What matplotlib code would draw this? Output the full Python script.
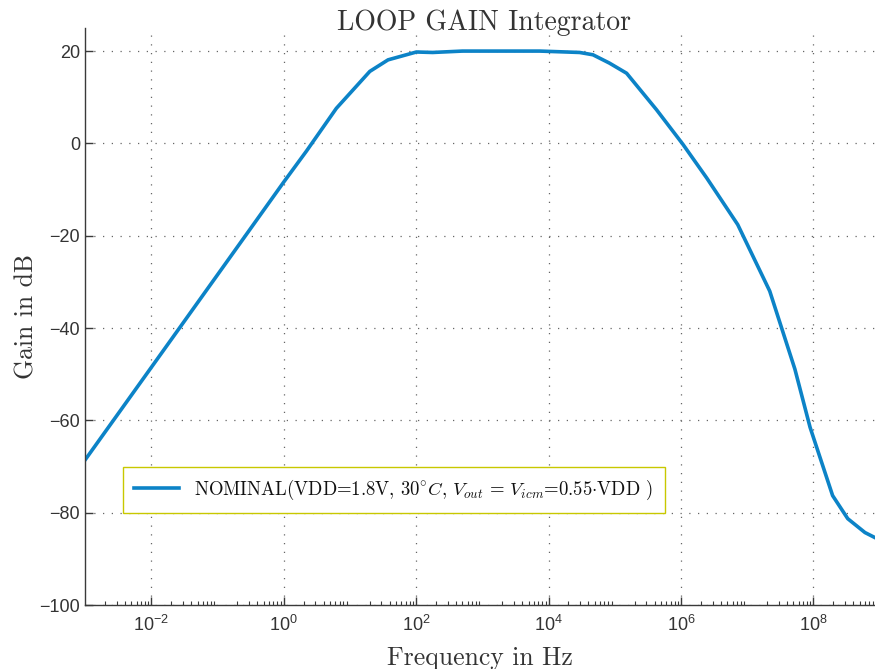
import matplotlib
matplotlib.use("Agg")
import matplotlib.pyplot as plt
from matplotlib.font_manager import FontProperties
from matplotlib.ticker import LogLocator, NullFormatter

# ---- data ----
freq_hz = [1.0e-3, 2.7e-2, 0.274, 1.0, 2.2, 6.25, 20.0, 37.7, 101.0, 178.0,
           500.0, 7.4e3, 2.95e4, 4.68e4, 8.3e4, 1.51e5, 4.27e5, 1.07e6,
           2.45e6, 7.2e6, 2.19e7, 5.25e7, 8.9e7, 1.95e8, 3.3e8, 6.0e8, 8.5e8]
gain_db = [-68.6, -39.9, -19.7, -8.4, -1.7, 7.6, 15.6, 18.1, 19.8, 19.7,
           20.0, 20.0, 19.7, 19.2, 17.4, 15.2, 7.3, -0.2,
           -7.5, -17.6, -32.0, -48.9, -61.5, -76.3, -81.3, -84.3, -85.4]
series_label = (r"NOMINAL(VDD=1.8V, 30$^{\circ}C$, $V_{out}\,=\,V_{icm}$"
                r"=0.55$\cdot$VDD )")
title_text = "LOOP GAIN Integrator"
xlabel_text = "Frequency in Hz"
ylabel_text = "Gain in dB"
yticks = [-100, -80, -60, -40, -20, 0, 20]
xticks = [1e-2, 1e0, 1e2, 1e4, 1e6, 1e8]

plt.rcParams['font.family'] = ['Liberation Sans', 'DejaVu Sans']
plt.rcParams['axes.unicode_minus'] = True

fig = plt.figure(figsize=(8.75, 6.69), dpi=100)
W, H = 875, 669
ax = fig.add_axes([85 / W, (H - 605) / H, (875 - 85) / W, (605 - 28) / H])

line_color = '#0c83c7'
ax.plot(freq_hz, gain_db, color=line_color, lw=2.6, label=series_label,
        solid_joinstyle='round')

ax.set_xscale('log')
ax.set_xlim(1e-3, 10 ** 8.93)
ax.set_ylim(-100, 25)
ax.set_xticks(xticks)
ax.set_yticks(yticks)
ax.xaxis.set_minor_locator(LogLocator(base=10, subs=range(2, 10), numticks=30))
ax.xaxis.set_minor_formatter(NullFormatter())

for s in ['top', 'right']:
    ax.spines[s].set_visible(False)
for s in ['left', 'bottom']:
    ax.spines[s].set_color('#3a3a3a')
    ax.spines[s].set_linewidth(1.0)

ax.tick_params(axis='both', which='major', direction='in', length=6,
               width=1.0, color='#3a3a3a', labelsize=13, labelcolor='#333333')
ax.tick_params(axis='x', which='major', pad=7)
ax.tick_params(axis='x', which='minor', direction='in', length=3,
               width=0.8, color='#3a3a3a')

ax.grid(True, which='major', linestyle=(0, (1, 6)), linewidth=0.9,
        color='#666666')
ax.set_axisbelow(True)

cm_title = FontProperties(family='cmr10', size=20, math_fontfamily='cm')
cm_label = FontProperties(family='cmr10', size=18.5, math_fontfamily='cm')
cm_leg = FontProperties(family='cmr10', size=13.5, math_fontfamily='cm')

ax.text(0.505, 1 - 2.5 / 577, title_text, transform=ax.transAxes,
        ha='center', va='baseline', fontproperties=cm_title, color='#333333')
ax.set_xlabel(xlabel_text, fontproperties=cm_label, color='#333333',
              labelpad=8)
ax.set_ylabel(ylabel_text, fontproperties=cm_label, color='#333333',
              labelpad=1)

leg = ax.legend(loc='lower left', bbox_to_anchor=(0.048, 0.159),
                borderaxespad=0, prop=cm_leg, frameon=True, fancybox=False,
                handlelength=2.4, handletextpad=0.8, borderpad=0.6,
                framealpha=1)
leg.get_frame().set_edgecolor('#c8c800')
leg.get_frame().set_linewidth(1.0)
for t in leg.get_texts():
    t.set_color('#111111')

fig.savefig('out.png', dpi=100)
